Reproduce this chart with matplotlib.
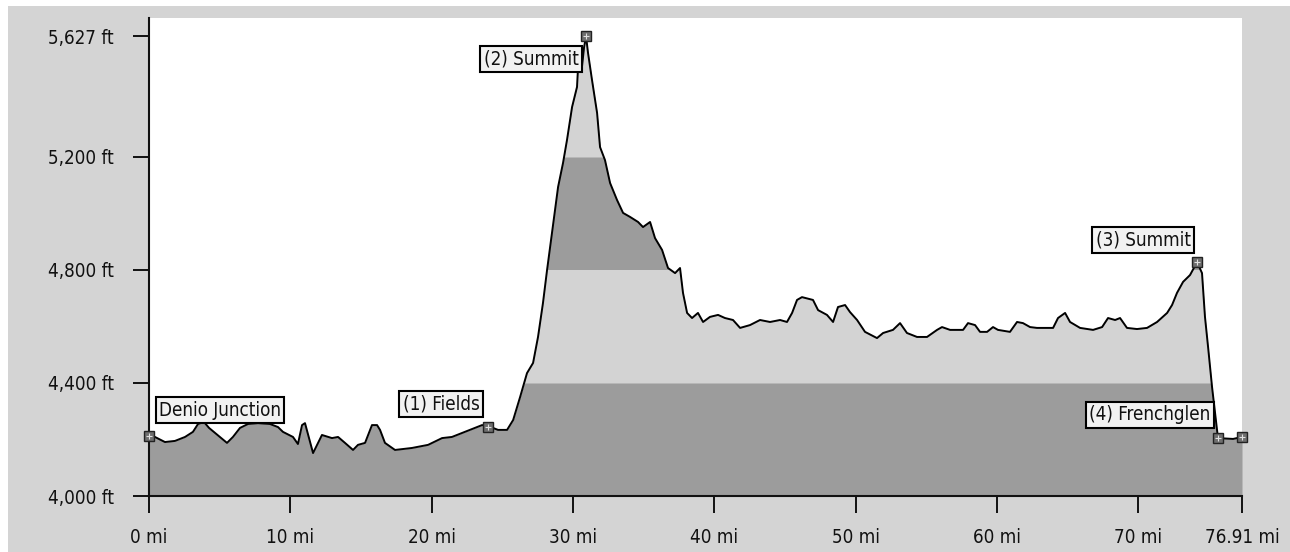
import numpy as np
import matplotlib
matplotlib.use('Agg')
from matplotlib import pyplot as plt
from matplotlib.patches import Rectangle
from matplotlib import font_manager

# route profile: distance (mi on the axis scale) and elevation (ft)
dist = [0.00, 0.42, 1.13, 1.84, 2.55, 3.11, 3.47, 3.89, 4.25, 5.02, 5.52, 5.94, 6.44, 7.01, 7.71,
        8.56, 9.13, 9.48, 10.19, 10.54, 10.83, 11.04, 11.61, 12.24, 12.95, 13.38, 13.87, 14.44,
        14.79, 15.29, 15.78, 16.14, 16.35, 16.70, 17.41, 18.61, 19.75, 20.74, 21.44, 22.15, 23.07,
        23.57, 23.99, 24.70, 25.34, 25.77, 26.26, 26.75, 27.18, 27.53, 27.88, 28.17, 28.52, 28.95,
        29.30, 29.58, 29.94, 30.29, 30.36, 30.64, 30.79, 30.93, 31.07, 31.35, 31.71, 31.92, 32.27,
        32.63, 33.12, 33.55, 34.04, 34.61, 34.96, 35.46, 35.81, 36.31, 36.73, 37.23, 37.58, 37.79,
        38.08, 38.43, 38.85, 39.21, 39.70, 40.27, 40.76, 41.33, 41.83, 42.53, 43.24, 43.95, 44.66,
        45.15, 45.51, 45.86, 46.21, 46.99, 47.35, 47.98, 48.41, 48.76, 49.26, 49.61, 50.11, 50.67,
        51.52, 51.95, 52.65, 53.15, 53.64, 54.35, 55.06, 55.77, 56.12, 56.69, 57.61, 57.96, 58.46,
        58.81, 59.31, 59.73, 60.08, 60.93, 61.43, 61.85, 62.35, 62.84, 63.98, 64.33, 64.83, 65.18,
        65.89, 66.81, 67.45, 67.87, 68.37, 68.72, 69.21, 69.92, 70.63, 71.34, 72.05, 72.40, 72.75,
        73.18, 73.67, 74.17, 74.52, 74.73, 74.95, 75.23, 75.44, 75.65, 76.72, 77.35]
elev = [4216, 4209, 4191, 4195, 4209, 4227, 4255, 4262, 4241, 4209, 4188, 4209, 4241, 4255, 4258,
        4255, 4244, 4227, 4209, 4184, 4251, 4258, 4152, 4216, 4205, 4209, 4188, 4163,
        4181, 4188, 4251, 4251, 4234, 4188, 4163, 4170, 4181, 4205, 4209, 4223, 4241,
        4251, 4248, 4234, 4234, 4269, 4350, 4435, 4471, 4563, 4683, 4800, 4931, 5094,
        5179, 5260, 5377, 5448, 5515, 5519, 5589, 5627, 5568, 5473, 5356, 5235, 5189,
        5108, 5048, 5002, 4988, 4970, 4952, 4970, 4913, 4871, 4807, 4789, 4807, 4719,
        4648, 4630, 4648, 4616, 4634, 4641, 4630, 4623, 4595, 4605, 4623, 4616, 4623,
        4616, 4648, 4694, 4704, 4694, 4658, 4641, 4616, 4669, 4676, 4651, 4623, 4581,
        4559, 4577, 4588, 4612, 4577, 4563, 4563, 4588, 4598, 4588, 4588, 4612, 4605,
        4581, 4581, 4598, 4588, 4581, 4616, 4612, 4598, 4595, 4595, 4630, 4648, 4616,
        4595, 4588, 4598, 4630, 4623, 4630, 4595, 4591, 4595, 4616, 4648, 4676, 4719,
        4758, 4782, 4828, 4789, 4634, 4527, 4386, 4294, 4205, 4202, 4209]

# elevation bands
band_lo = [4000, 4400, 4800, 5200]
band_col = ['#9c9c9c', '#d3d3d3', '#9c9c9c', '#d3d3d3']

# waypoints
wp_names = ['Denio Junction', '(1) Fields', '(2) Summit', '(3) Summit', '(4) Frenchglen']
wp_dist = [0.00, 23.99, 30.93, 74.17, 75.65]
wp_elev = [4212, 4244, 5627, 4828, 4205]
lab_dist = [5.02, 20.67, 27.03, 70.35, 70.84]
lab_elev = [4304, 4326, 5547, 4906, 4287]

yticks = [4000, 4400, 4800, 5200, 5627]
ytick_labels = ['4,000 ft', '4,400 ft', '4,800 ft', '5,200 ft', '5,627 ft']
xticks = [0, 10, 20, 30, 40, 50, 60, 70, 77.35]
xtick_labels = ['0 mi', '10 mi', '20 mi', '30 mi', '40 mi', '50 mi', '60 mi', '70 mi', '76.91 mi']

fp = font_manager.FontProperties(family='DejaVu Sans', stretch='condensed', size=13.5)

x = np.array(dist)
y = np.array(elev)

fig = plt.figure(figsize=(12.9, 5.52), dpi=100)
fig.patch.set_facecolor('white')
fig.patches.append(Rectangle((8 / 1290, 0), 1 - 8 / 1290, 1 - 6 / 552, transform=fig.transFigure,
                             facecolor='#d4d4d4', edgecolor='none', zorder=-10))

ax = fig.add_axes([149 / 1290, 56 / 552, 1093 / 1290, 478 / 552])
ax.set_zorder(2)
ax.set_facecolor('white')

for lo, c in zip(band_lo, band_col):
    ax.fill_between(x, lo, y, where=y >= lo, interpolate=True, color=c, lw=0, zorder=1)
ax.plot(x, y, color='black', lw=1.4, zorder=3)

ax.plot(wp_dist + [77.35], wp_elev + [4209], 's', ms=7, mfc='#6e6e6e', mec='#222222', mew=1,
        zorder=4, clip_on=False)
ax.plot(wp_dist + [77.35], wp_elev + [4209], '+', ms=4, mec='#e0e0e0', mew=0.8, zorder=5,
        clip_on=False)

for name, lx, ly in zip(wp_names, lab_dist, lab_elev):
    ax.text(lx, ly, name, ha='center', va='center', fontproperties=fp, color='#111111',
            zorder=6, bbox=dict(boxstyle='square,pad=0.18', facecolor='#f2f2f2',
                                edgecolor='black', lw=1.5))

ax.set_xlim(0, 77.35)
ax.set_ylim(4000, 5692)
ax.set_xticks(xticks)
ax.set_xticklabels(xtick_labels, fontproperties=fp)
ax.set_yticks(yticks)
ax.set_yticklabels(ytick_labels, fontproperties=fp)
ax.tick_params(axis='x', length=12, width=1.4, pad=11, colors='#111111')
ax.tick_params(axis='y', length=11.5, width=1.4, pad=14, colors='#111111')

for s in ['top', 'right']:
    ax.spines[s].set_visible(False)
for s in ['left', 'bottom']:
    ax.spines[s].set_linewidth(1.5)
    ax.spines[s].set_color('#111111')

fig.savefig('out.png', dpi=100)
